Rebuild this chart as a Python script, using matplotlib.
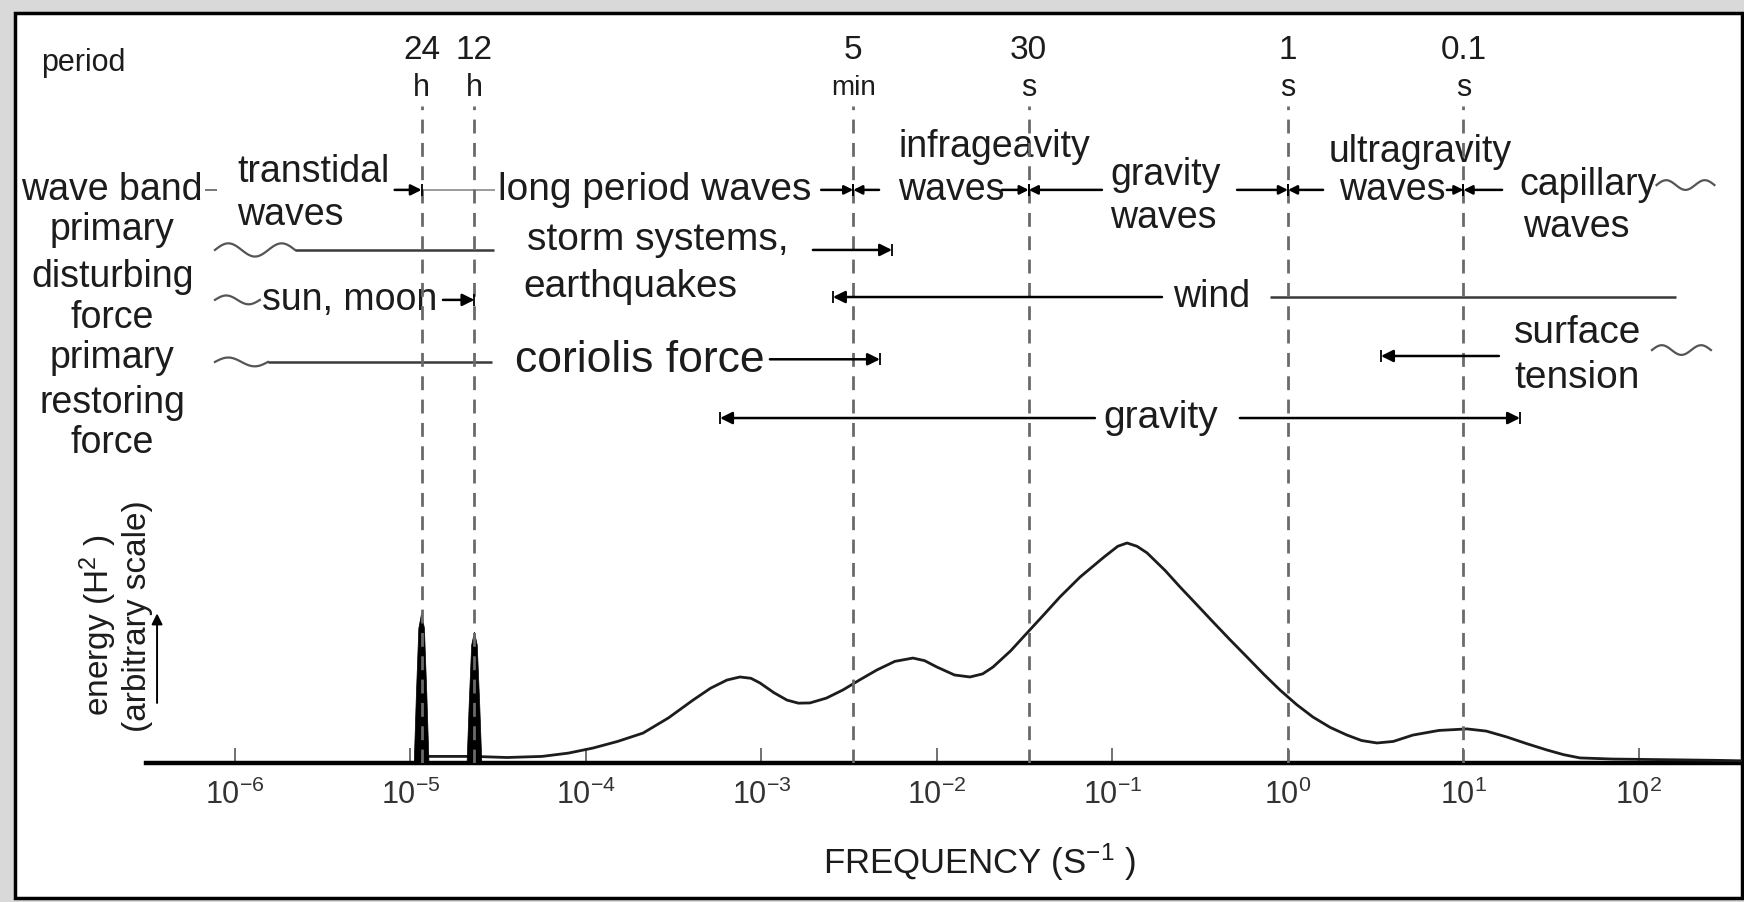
import numpy as np
import matplotlib.pyplot as plt
from matplotlib.patches import Rectangle, Polygon

plt.rcParams['font.family'] = ['Liberation Sans', 'DejaVu Sans']
plt.rcParams['mathtext.fontset'] = 'custom'
plt.rcParams['mathtext.rm'] = 'Liberation Sans'
plt.rcParams['mathtext.it'] = 'Liberation Sans:italic'

# ---- data -------------------------------------------------------------
# characteristic periods (s) marked by dashed lines
periods_s = [86400, 43200, 300, 30, 1, 0.1]
period_num = ['24', '12', '5', '30', '1', '0.1']
period_unit = ['h', 'h', 'min', 's', 's', 's']

# tidal line spectrum (24 h and 12 h), peak energy
tide_energy = [6.8, 5.95]

# continuous wave energy spectrum: log10 frequency (Hz), energy (arbitrary)
spec_logf = [-4.94, -4.80, -4.64, -4.45, -4.25, -4.10, -3.96, -3.82, -3.675,
             -3.53, -3.39, -3.29, -3.197, -3.123, -3.06, -3.009, -2.93,
             -2.855, -2.79, -2.724, -2.63, -2.536, -2.44, -2.342, -2.24,
             -2.137, -2.07, -2.00, -1.90, -1.812, -1.74, -1.681, -1.58,
             -1.487, -1.39, -1.299, -1.185, -1.05, -0.97, -0.917, -0.86,
             -0.803, -0.70, -0.615, -0.52, -0.427, -0.33, -0.234, -0.14,
             -0.046, 0.05, 0.142, 0.24, 0.336, 0.42, 0.507, 0.60, 0.712,
             0.86, 1.02, 1.13, 1.248, 1.36, 1.476, 1.57, 1.664, 1.85, 2.05,
             2.25, 2.45, 2.58]
spec_energy = [0.30, 0.30, 0.30, 0.25, 0.30, 0.45, 0.68, 0.98, 1.36,
               2.05, 2.86, 3.40, 3.77, 3.91, 3.85, 3.64, 3.20,
               2.86, 2.72, 2.73, 2.95, 3.32, 3.78, 4.23, 4.62,
               4.77, 4.65, 4.36, 4.00, 3.91, 4.05, 4.36, 5.10,
               5.91, 6.75, 7.55, 8.45, 9.35, 9.85, 10.0, 9.85,
               9.55, 8.75, 8.0, 7.2, 6.41, 5.6, 4.82, 4.05,
               3.32, 2.65, 2.09, 1.62, 1.27, 1.02, 0.91, 0.98, 1.27,
               1.48, 1.55, 1.45, 1.18, 0.88, 0.59, 0.38, 0.23, 0.18, 0.16,
               0.14, 0.12, 0.10]

decades = [-6, -5, -4, -3, -2, -1, 0, 1, 2]

# row titles down the left-hand side
row_titles = ['wave band', 'primary', 'disturbing', 'force',
              'primary', 'restoring', 'force']
row_title_y = [26.05, 24.23, 22.09, 20.23, 18.41, 16.36, 14.55]

INK = '#1c1c1c'
LINE = '#3a3a3a'
FS = 27   # body text size for the band labels


def F(lf):
    return 10.0 ** lf


fig = plt.figure(figsize=(17.44, 9.02), dpi=100, facecolor='#d9d9d9')
W, H = 1744, 902
fig.patches.append(Rectangle((15 / W, 1 - 898 / H), (1742 - 15) / W, (898 - 13) / H,
                             transform=fig.transFigure, facecolor='white',
                             edgecolor='black', lw=2.5, zorder=-10))

ax = fig.add_axes([146 / W, (H - 763) / H, (1742 - 146) / W, (763 - 13) / H])
ax.set_facecolor('none')
ax.set_xscale('log')
ax.set_xlim(F(-6.507), F(2.587))
ax.set_ylim(0, 34.09)
for s in ['left', 'right', 'top']:
    ax.spines[s].set_visible(False)
ax.spines['bottom'].set_linewidth(3.2)
ax.spines['bottom'].set_color('black')
ax.set_yticks([])
ax.set_xticks([F(d) for d in decades])
ax.set_xticklabels([r'$\mathregular{10^{%d}}$' % d for d in decades],
                   fontsize=22, color='#333333')
ax.xaxis.set_minor_locator(plt.NullLocator())
ax.tick_params(axis='x', direction='in', length=11, width=1.3, color='#666666', pad=12)

# spectrum
ax.plot([F(v) for v in spec_logf], spec_energy, color=INK, lw=2.0,
        solid_joinstyle='round', zorder=3)
for p, e in zip(periods_s[:2], tide_energy):
    lf = np.log10(1.0 / p)
    ax.add_patch(Polygon([(F(lf - 0.042), 0), (F(lf - 0.03), e * 0.45), (F(lf - 0.016), e * 0.9),
                          (F(lf), e), (F(lf + 0.016), e * 0.9), (F(lf + 0.03), e * 0.45),
                          (F(lf + 0.042), 0)], closed=True, facecolor='black',
                         edgecolor='black', lw=0.5, zorder=4))

# period lines and labels
for p, num, unit in zip(periods_s, period_num, period_unit):
    f = 1.0 / p
    ax.plot([f, f], [0, 29.86], color='#6a6a6a', lw=2.0, ls=(0, (5, 3.4)), zorder=5)
    ax.text(f, 32.4, num, ha='center', va='center', fontsize=24, color=INK)
    ax.text(f, 30.7, unit, ha='center', va='center',
            fontsize=20 if unit == 'min' else 22, color=INK)

ax.text(F(-7.105), 31.8, 'period', ha='left', va='center', fontsize=22, color=INK)

for t, y in zip(row_titles, row_title_y):
    ax.text(F(-6.70), y, t, ha='center', va='center', fontsize=FS, color=INK)


def seg(x0, x1, y, lw=1.8, color=LINE):
    ax.plot([F(x0), F(x1)], [y, y], color=color, lw=lw, solid_capstyle='butt', zorder=2)


def arrow(x_tail, x_head, y, ms=18):
    ax.annotate('', xy=(F(x_head), y), xytext=(F(x_tail), y),
                arrowprops=dict(arrowstyle='-|>', color='black', lw=1.8,
                                mutation_scale=ms, shrinkA=0, shrinkB=0), zorder=6)
    ax.plot([F(x_head)], [y], marker='|', ms=9, mew=1.3, color='black', zorder=6)


def squiggle(x0, x1, y, amp=0.22, waves=1.5):
    t = np.linspace(0, 1, 80)
    ax.plot(F(x0 + (x1 - x0) * t), y + amp * np.sin(2 * np.pi * waves * t),
            color='#555555', lw=1.6, zorder=2)


def lp(p):
    return np.log10(1.0 / p)


def label(lf, y, s, size=FS, ha='left'):
    ax.text(F(lf), y, s, ha=ha, va='center', fontsize=size, color=INK)


# ---- wave band row ----
yb = 26.05
seg(-6.17, -6.10, yb, lw=1.4, color='#777777')
label(-5.989, 26.86, 'transtidal')
label(-5.989, 24.9, 'waves')
arrow(-5.09, lp(86400), yb, ms=16)
seg(lp(86400), -4.52, yb, lw=1.2, color='#8a8a8a')
label(-4.501, yb, 'long period waves', size=28)
arrow(-2.66, lp(300), yb, ms=13)
arrow(-2.33, lp(300), yb, ms=13)
label(-2.222, 28.0, 'infrageavity')
label(-2.222, yb, 'waves')
arrow(-1.63, lp(30), yb, ms=13)
arrow(-1.06, lp(30), yb, ms=13)
label(-1.014, 26.73, 'gravity')
label(-1.014, 24.77, 'waves')
arrow(-0.29, lp(1), yb, ms=13)
arrow(0.20, lp(1), yb, ms=13)
label(0.234, 27.77, 'ultragravity')
label(0.29, yb, 'waves')
arrow(0.905, lp(0.1), yb, ms=13)
arrow(1.22, lp(0.1), yb, ms=13)
label(1.316, 26.27, 'capillary')
label(1.339, 24.36, 'waves')
squiggle(2.10, 2.43, 26.27)

# ---- primary disturbing force rows ----
y1 = 23.32
squiggle(-6.114, -5.658, y1, amp=0.3, waves=1.5)
seg(-5.658, -4.524, y1)
label(-4.336, 23.77, 'storm systems,', size=28)
label(-4.359, 21.64, 'earthquakes', size=28)
arrow(-2.707, -2.256, y1)

y2 = 21.05
squiggle(-6.114, -5.858, y2, amp=0.2, waves=1.0)
label(-5.846, y2, 'sun, moon')
arrow(-4.815, lp(43200), y2)

arrow(-0.718, -2.593, 21.18)
label(-0.433, 21.18, 'wind', ha='center')
seg(-0.103, 2.211, 21.18)

# ---- primary restoring force rows ----
y3 = 18.23
squiggle(-6.114, -5.812, y3, amp=0.2, waves=1.0)
seg(-5.812, -4.536, y3)
label(-4.405, 18.3, 'coriolis force', size=32)
arrow(-2.952, -2.325, 18.35)

arrow(1.202, 0.530, 18.5)
label(1.288, 19.55, 'surface', size=28)
label(1.288, 17.5, 'tension', size=28)
squiggle(2.074, 2.41, 18.77)

y4 = 15.68
arrow(-1.10, -3.236, y4)
label(-0.724, y4, 'gravity', size=28, ha='center')
arrow(-0.274, 1.322, y4)

# ---- energy axis label ----
ax.text(F(-6.78), 6.27, r'energy (H$^2$ )', rotation=90, ha='center', va='center',
        fontsize=24, color=INK)
ax.text(F(-6.553), 6.68, '(arbitrary scale)', rotation=90, ha='center', va='center',
        fontsize=24, color=INK)
ax.annotate('', xy=(F(-6.444), 6.8), xytext=(F(-6.444), 2.73),
            arrowprops=dict(arrowstyle='-|>', color='black', lw=1.4,
                            mutation_scale=16, shrinkA=0, shrinkB=0))

ax.set_xlabel(r'FREQUENCY (S$^{-1}$ )', fontsize=25, color=INK)
ax.xaxis.set_label_coords(0.522, -0.105)
ax.xaxis.label.set_va('top')

fig.savefig('out.png', dpi=100, facecolor=fig.get_facecolor())
